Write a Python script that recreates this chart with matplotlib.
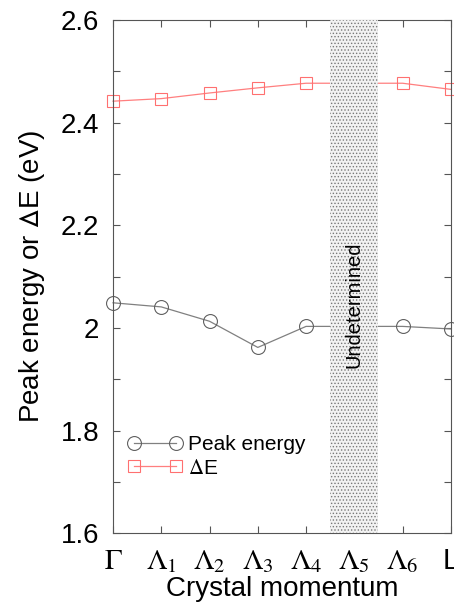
import matplotlib.pyplot as plt
from matplotlib.ticker import MultipleLocator

plt.rcParams['font.family'] = ['Liberation Sans', 'DejaVu Sans']
plt.rcParams['mathtext.fontset'] = 'stix'
plt.rcParams['hatch.linewidth'] = 0.6

# crystal momentum points (index) and labels
kpos = [0, 1, 2, 3, 4, 5, 6, 7]
klabels = [r'$\Gamma$', r'$\Lambda_1$', r'$\Lambda_2$', r'$\Lambda_3$',
           r'$\Lambda_4$', r'$\Lambda_5$', r'$\Lambda_6$', 'L']

# peak energy and Delta E (eV); value at Lambda_5 hidden by the band
peak = [2.049, 2.041, 2.013, 1.962, 2.003, 2.003, 2.003, 1.998]
dE = [2.442, 2.447, 2.458, 2.468, 2.477, 2.477, 2.477, 2.465]

band = (4.5, 5.5)

fig = plt.figure(figsize=(4.54, 6.10), dpi=100)
ax = fig.add_axes([0.249, 0.126, 0.744, 0.841])

ax.plot(kpos, peak, color='#808080', lw=0.9, marker='o', ms=10,
        mfc='none', mec='#606060', mew=0.8, label='Peak energy', clip_on=False)
ax.plot(kpos, dE, color='#ff7f7f', lw=0.9, marker='s', ms=9,
        mfc='none', mec='#ff7070', mew=0.8, label=r'$\Delta$E', clip_on=False)

ax.axvspan(band[0], band[1], facecolor='#f2f2f2', edgecolor='#777777',
           hatch='.....', lw=0, zorder=3)
ax.text(5, 2.045, 'Undetermined', rotation=90, ha='center', va='center',
        fontsize=14.5, zorder=4)

ax.set_xlim(0, 7)
ax.set_ylim(1.6, 2.6)
ax.set_xticks(kpos)
ax.set_xticklabels(klabels, fontsize=21)
ax.set_yticks([1.6, 1.8, 2.0, 2.2, 2.4, 2.6])
ax.set_yticklabels(['1.6', '1.8', '2', '2.2', '2.4', '2.6'], fontsize=20)
ax.yaxis.set_minor_locator(MultipleLocator(0.1))
ax.tick_params(which='both', direction='in', top=True, right=True,
               length=5, color='#555555', width=0.8)
ax.tick_params(axis='y', pad=10)
ax.tick_params(axis='x', pad=10)
for s in ax.spines.values():
    s.set_color('#555555')
    s.set_linewidth(0.8)

ax.set_xlabel('Crystal momentum', fontsize=20, labelpad=1)
ax.set_ylabel(r'Peak energy or $\mathsf{\Delta}$E (eV)', fontsize=20, labelpad=10)

ax.legend(loc='lower left', bbox_to_anchor=(0.0, 0.08), frameon=False,
          numpoints=2, fontsize=15, handlelength=2.6, handletextpad=0.3,
          labelspacing=0.2, borderaxespad=0.3)

fig.savefig('out.png', dpi=100)
